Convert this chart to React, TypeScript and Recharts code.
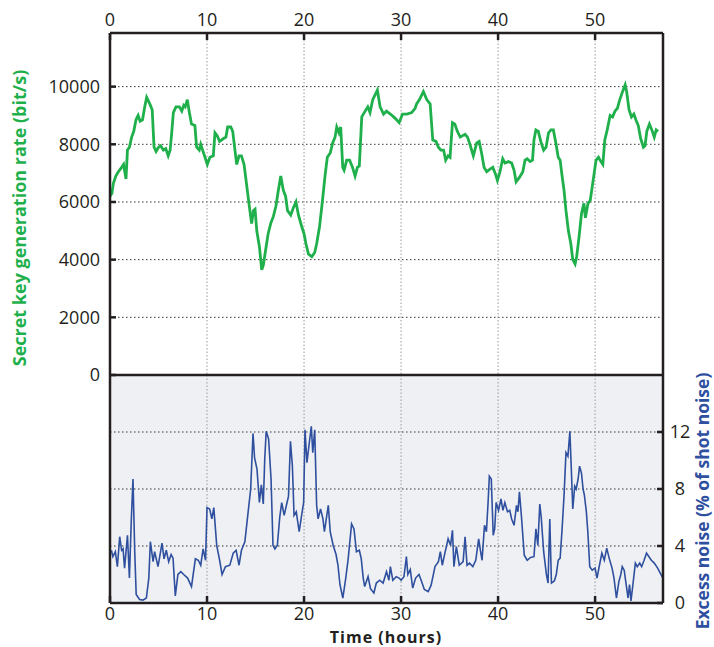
import { LineChart, Line, XAxis, YAxis, CartesianGrid } from "recharts";

// secret key rate (bit/s) vs time (hours)
const keyHours = [
  0, 0.2, 0.35, 0.6, 0.86, 1.2, 1.4, 1.65, 1.8, 2.0, 2.23, 2.45, 2.68, 2.9, 3.1,
  3.35, 3.61, 3.78, 4.1, 4.35, 4.54, 4.75, 5.0, 5.22, 5.5, 5.75, 6.0, 6.2, 6.36,
  6.53, 6.8, 7.15, 7.4, 7.6, 7.75, 7.97, 8.18, 8.4, 8.75, 8.93, 9.2, 9.35, 9.55,
  9.79, 10.03, 10.3, 10.65, 10.82, 11.05, 11.3, 11.7, 11.95, 12.13, 12.45, 12.65,
  12.88, 13.06, 13.3, 13.55, 13.82, 14.1, 14.36, 14.6, 14.78, 14.95, 15.13, 15.4,
  15.64, 15.8, 16.05, 16.3, 16.56, 16.84, 17.1, 17.35, 17.6, 17.87, 18.1, 18.3,
  18.63, 18.9, 19.17, 19.42, 19.76, 20.0, 20.2, 20.45, 20.8, 21.1, 21.3, 21.6,
  21.9, 22.16, 22.4, 22.7, 22.95, 23.2, 23.37, 23.6, 23.78, 23.99, 24.13, 24.4,
  24.7, 25.0, 25.26, 25.5, 25.7, 25.95, 26.3, 26.57, 26.8, 27.08, 27.56, 27.84,
  28.2, 28.5, 28.9, 29.4, 29.8, 30.15, 30.6, 31.1, 31.45, 31.6, 31.9, 32.3, 32.65,
  33.0, 33.27, 33.6, 33.85, 34.1, 34.38, 34.6, 34.85, 35.05, 35.3, 35.55, 35.8,
  36.1, 36.35, 36.6, 36.85, 37.1, 37.45, 37.8, 38.05, 38.3, 38.56, 38.83, 39.2,
  39.46, 39.7, 39.93, 40.2, 40.48, 40.72, 41.07, 41.4, 41.65, 41.86, 42.2, 42.55,
  42.78, 43.0, 43.3, 43.55, 43.7, 43.9, 44.15, 44.4, 44.7, 44.95, 45.2, 45.45,
  45.7, 45.98, 46.2, 46.4, 46.56, 46.8, 47.0, 47.25, 47.5, 47.7, 47.94, 48.1,
  48.35, 48.6, 48.85, 49.0, 49.27, 49.5, 49.8, 50.1, 50.35, 50.6, 50.8, 51.0,
  51.25, 51.55, 51.8, 52.05, 52.3, 52.5, 52.8, 53.1, 53.25, 53.5, 53.75, 54.0,
  54.2, 54.45, 54.7, 54.98, 55.15, 55.33, 55.6, 55.85, 56.1, 56.3, 56.5,
];
const keyRate = [
  6200, 6300, 6650, 6900, 7050, 7200, 7300, 6800, 7800, 7900, 8250, 8450, 8850,
  9000, 8800, 8850, 9350, 9630, 9400, 9200, 7900, 7750, 7900, 7950, 7800, 7850,
  7600, 7800, 8400, 9100, 9300, 9300, 9150, 9350, 9300, 9550, 9100, 8700, 8650,
  7900, 7800, 8000, 7800, 7550, 7300, 7550, 7600, 8400, 8300, 8100, 8200, 8250,
  8600, 8600, 8450, 7800, 7300, 7600, 7600, 7300, 6550, 5850, 5250, 5700, 5750,
  5000, 4450, 3650, 3800, 4350, 4900, 5250, 5500, 5850, 6400, 6900, 6400, 6200,
  5700, 5550, 5800, 6000, 5550, 5150, 4900, 4550, 4200, 4100, 4250, 4550, 5150,
  6050, 6900, 7550, 7700, 8050, 8250, 8600, 8400, 8600, 7200, 7100, 7450, 7450,
  7200, 6900, 7200, 7250, 8950, 9150, 9300, 9100, 9550, 9880, 9300, 9050, 9150,
  9050, 8900, 8750, 9050, 9050, 9100, 9250, 9400, 9550, 9830, 9550, 9400, 8150,
  8100, 7900, 7800, 7800, 7450, 7600, 7550, 8750, 8700, 8450, 8250, 8300, 8350,
  8250, 8000, 7600, 8050, 8100, 7700, 7200, 7050, 7150, 7200, 7000, 6750, 7050,
  7500, 7350, 7400, 7350, 7100, 6700, 6850, 7050, 7450, 7500, 7400, 7450, 8150,
  8500, 8450, 8100, 7800, 7900, 8400, 8500, 8500, 8000, 7550, 7450, 7000, 6400,
  5700, 5000, 4550, 4000, 3850, 4100, 4800, 5600, 5950, 5450, 5950, 6050, 6750,
  7450, 7550, 7400, 7300, 8150, 8500, 9000, 8950, 9150, 9250, 9500, 9800, 10060,
  9830, 9200, 8950, 9050, 8850, 8650, 8200, 7900, 7950, 8450, 8700, 8500, 8250,
  8500, 8450,
];

// excess noise (% of shot noise) vs time (hours)
const noiseHours = [
  0.14, 0.3, 0.55, 0.76, 1.0, 1.2, 1.35, 1.5, 1.8, 2.0, 2.2, 2.37, 2.55, 2.7,
  3.05, 3.4, 3.75, 4.0, 4.16, 4.44, 4.6, 4.95, 5.36, 5.57, 5.8, 6.05, 6.3, 6.5,
  6.73, 7.0, 7.3, 7.6, 8.0, 8.4, 8.8, 9.1, 9.35, 9.6, 9.85, 10.0, 10.27, 10.5,
  10.7, 11.0, 11.3, 11.55, 11.9, 12.35, 12.7, 13.0, 13.3, 13.55, 13.9, 14.2, 14.5,
  14.74, 14.9, 15.15, 15.4, 15.6, 15.8, 15.95, 16.1, 16.35, 16.6, 16.8, 17.0,
  17.25, 17.5, 17.7, 17.95, 18.25, 18.4, 18.6, 18.8, 18.97, 19.2, 19.5, 19.75,
  19.96, 20.1, 20.3, 20.5, 20.75, 20.9, 21.1, 21.3, 21.45, 21.7, 21.95, 22.1,
  22.5, 22.7, 23.0, 23.3, 23.5, 23.7, 24.0, 24.3, 24.55, 24.9, 25.15, 25.4, 25.7,
  25.9, 26.1, 26.25, 26.6, 26.85, 27.2, 27.45, 27.8, 28.15, 28.5, 28.75, 28.9,
  29.15, 29.5, 29.8, 30.0, 30.3, 30.55, 30.7, 30.95, 31.2, 31.5, 31.85, 32.1,
  32.4, 32.8, 33.1, 33.5, 33.85, 34.05, 34.25, 34.5, 34.85, 35.1, 35.3, 35.45,
  35.7, 36.0, 36.4, 36.6, 36.8, 37.05, 37.4, 37.7, 38.0, 38.2, 38.35, 38.6, 38.8,
  38.97, 39.1, 39.3, 39.5, 39.65, 39.8, 40.05, 40.3, 40.5, 40.7, 40.97, 41.2,
  41.4, 41.65, 41.9, 42.05, 42.2, 42.4, 42.7, 43.0, 43.35, 43.7, 43.9, 44.1, 44.3,
  44.45, 44.7, 44.98, 45.15, 45.33, 45.5, 45.8, 46.0, 46.2, 46.4, 46.6, 46.8,
  47.0, 47.2, 47.4, 47.55, 47.7, 47.9, 48.05, 48.25, 48.4, 48.6, 48.76, 48.9,
  49.1, 49.25, 49.45, 49.7, 50.0, 50.2, 50.45, 50.7, 50.95, 51.2, 51.45, 51.75,
  51.95, 52.2, 52.45, 52.65, 52.8, 53.0, 53.2, 53.4, 53.55, 53.7, 53.9, 54.15,
  54.35, 54.6, 54.8, 55.05, 55.3, 55.55, 55.8, 56.1, 56.45, 56.9, 57.0,
];
const noiseLevel = [
  3.7, 3.25, 3.6, 2.55, 4.65, 3.7, 3.8, 2.45, 4.75, 1.75, 5.9, 8.7, 3.6, 0.6,
  0.25, 0.2, 0.35, 1.75, 4.3, 2.9, 3.6, 2.55, 4.2, 3.1, 3.7, 2.9, 3.4, 3.15, 0.5,
  2.0, 2.2, 2.0, 1.75, 1.15, 3.1, 3.0, 2.65, 3.8, 3.0, 6.7, 6.6, 5.9, 6.7, 4.05,
  3.0, 2.0, 2.55, 2.65, 3.5, 3.7, 2.65, 3.7, 4.3, 6.15, 8.0, 11.9, 10.2, 9.4,
  7.05, 8.3, 6.95, 10.1, 12.05, 11.5, 8.7, 4.05, 3.8, 4.05, 6.05, 7.05, 6.15,
  7.05, 7.5, 11.35, 9.6, 6.15, 6.4, 5.0, 6.15, 7.05, 12.15, 9.85, 11.0, 12.4,
  10.55, 12.15, 6.85, 5.9, 6.6, 5.9, 5.0, 6.85, 5.0, 4.05, 3.4, 2.65, 1.3, 0.35,
  1.75, 3.1, 5.55, 5.2, 3.6, 3.7, 3.1, 1.75, 1.15, 1.85, 1.0, 0.7, 1.4, 1.6, 1.4,
  2.2, 1.6, 2.55, 1.6, 1.85, 1.75, 1.6, 1.85, 3.25, 2.0, 2.35, 1.05, 1.75, 2.0,
  1.55, 0.95, 0.8, 1.25, 2.55, 2.9, 3.6, 2.65, 3.45, 4.5, 4.05, 5.1, 2.55, 3.95,
  2.65, 2.9, 4.65, 2.65, 2.8, 2.55, 3.0, 4.5, 3.6, 3.0, 5.45, 5.0, 7.05, 8.9, 8.7,
  4.75, 5.2, 7.05, 6.5, 7.3, 6.5, 7.05, 6.4, 6.5, 5.9, 5.45, 6.85, 6.4, 7.8, 6.15,
  3.35, 3.0, 3.2, 3.25, 5.2, 4.05, 6.95, 6.0, 3.6, 2.0, 1.4, 5.9, 1.4, 1.55, 2.0,
  3.0, 3.15, 5.2, 7.55, 10.55, 10.3, 12.05, 9.4, 6.6, 8.2, 8.0, 8.7, 9.6, 9.1,
  8.0, 7.55, 6.4, 5.0, 2.55, 2.3, 2.45, 1.75, 2.65, 3.5, 3.0, 3.85, 3.15, 2.45,
  1.75, 0.35, 1.5, 2.0, 2.55, 2.3, 1.3, 0.35, 1.3, 0.15, 1.3, 2.8, 2.55, 2.8,
  2.55, 3.0, 3.5, 3.25, 3.0, 2.8, 2.45, 1.85, 1.75,
];

const hourTicks = [0, 10, 20, 30, 40, 50];
const rateTicks = [0, 2000, 4000, 6000, 8000, 10000];
const noiseTicks = [0, 4, 8, 12];

const keyData = keyHours.map((t, i) => ({ t, rate: keyRate[i] }));
const noiseData = noiseHours.map((t, i) => ({ t, noise: noiseLevel[i] }));

const FONT = "'Open Sans', sans-serif";
const INK = "#231f20";
const GREEN = "#1fb04c";
const BLUE = "#2f4f9f";
const tickFont = { fontFamily: FONT, fontSize: 18, fill: INK };
const frame = { stroke: INK, strokeWidth: 2.5 };

export default function App() {
  return (
    <div style={{ position: "absolute", left: 0, top: 0, width: 714, height: 647, background: "#fff" }}>
      <div style={{ position: "absolute", left: 0, top: 375 }}>
        <LineChart width={714} height={272} margin={{ top: 0, right: 0, bottom: 0, left: 0 }}>
          <CartesianGrid
            xAxisId="b"
            yAxisId="nr"
            fill="#eef0f3"
            vertical={false}
            stroke="#333"
            strokeDasharray="1.5 2.5"
          />
          <CartesianGrid
            xAxisId="b"
            yAxisId="nr"
            horizontal={false}
            stroke="#999"
            strokeDasharray="1.5 2"
          />
          <XAxis
            xAxisId="b"
            type="number"
            dataKey="t"
            domain={[0, 57]}
            ticks={hourTicks}
            height={44}
            tickSize={-7}
            tickMargin={11}
            tick={tickFont}
            axisLine={frame}
            tickLine={frame}
          />
          <YAxis
            yAxisId="nl"
            type="number"
            domain={[0, 16]}
            ticks={noiseTicks}
            width={110}
            tick={false}
            tickSize={-6}
            axisLine={frame}
            tickLine={frame}
          />
          <YAxis
            yAxisId="nr"
            orientation="right"
            type="number"
            domain={[0, 16]}
            ticks={noiseTicks}
            width={51}
            tickSize={-6}
            tickMargin={23}
            tick={{ ...tickFont, textAnchor: "middle" }}
            axisLine={frame}
            tickLine={frame}
          />
          <Line
            data={noiseData}
            xAxisId="b"
            yAxisId="nr"
            dataKey="noise"
            type="linear"
            stroke={BLUE}
            strokeWidth={1.6}
            dot={false}
            isAnimationActive={false}
          />
        </LineChart>
      </div>

      <div style={{ position: "absolute", left: 0, top: 0, zIndex: 1 }}>
        <LineChart width={714} height={392} margin={{ top: 0, right: 0, bottom: 0, left: 0 }}>
          <CartesianGrid
            xAxisId="top"
            yAxisId="kl"
            vertical={false}
            stroke="#333"
            strokeDasharray="1.5 2.5"
          />
          <CartesianGrid
            xAxisId="top"
            yAxisId="kl"
            horizontal={false}
            stroke="#999"
            strokeDasharray="1.5 2"
          />
          <XAxis
            xAxisId="top"
            orientation="top"
            type="number"
            dataKey="t"
            domain={[0, 57]}
            ticks={hourTicks}
            height={33}
            tickSize={-7}
            tickMargin={14}
            tick={tickFont}
            axisLine={frame}
            tickLine={frame}
          />
          <XAxis
            xAxisId="bottomEdge"
            orientation="bottom"
            type="number"
            dataKey="t"
            domain={[0, 57]}
            height={17}
            tick={false}
            tickLine={false}
            axisLine={frame}
          />
          <YAxis
            yAxisId="kl"
            type="number"
            domain={[0, 11860]}
            ticks={rateTicks}
            width={110}
            tickSize={-6}
            tickMargin={16}
            tick={tickFont}
            axisLine={frame}
            tickLine={frame}
          />
          <YAxis
            yAxisId="kr"
            orientation="right"
            type="number"
            domain={[0, 11860]}
            ticks={rateTicks}
            width={51}
            tick={false}
            tickSize={-6}
            axisLine={frame}
            tickLine={frame}
          />
          <Line
            data={keyData}
            xAxisId="top"
            yAxisId="kl"
            dataKey="rate"
            type="linear"
            stroke={GREEN}
            strokeWidth={2.8}
            dot={false}
            isAnimationActive={false}
          />
        </LineChart>
      </div>

      <svg
        width={714}
        height={647}
        style={{ position: "absolute", left: 0, top: 0, zIndex: 2, pointerEvents: "none" }}
      >
        <text
          transform="translate(19,218) rotate(-90)"
          textAnchor="middle"
          dominantBaseline="central"
          fontFamily={FONT}
          fontWeight={700}
          fontSize={18}
          fill={GREEN}
        >
          Secret key generation rate (bit/s)
        </text>
        <text
          transform="translate(702,501) rotate(-90)"
          textAnchor="middle"
          dominantBaseline="central"
          fontFamily={FONT}
          fontWeight={700}
          fontSize={17.5}
          fill={BLUE}
        >
          Excess noise (% of shot noise)
        </text>
        <text
          x={386}
          y={643}
          textAnchor="middle"
          fontFamily={FONT}
          fontWeight={700}
          fontSize={16}
          letterSpacing={1}
          fill={INK}
        >
          Time (hours)
        </text>
      </svg>
    </div>
  );
}
